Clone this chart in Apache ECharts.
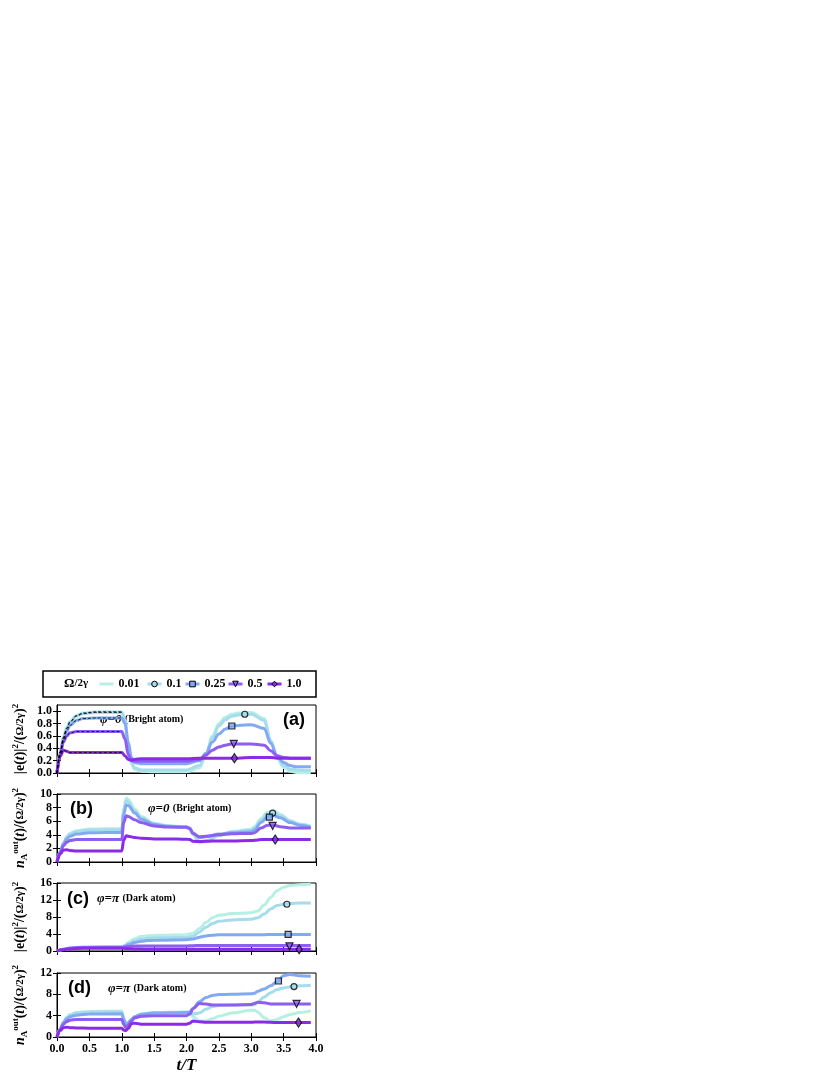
<!DOCTYPE html>
<html>
<head>
<meta charset="utf-8">
<script src="https://cdn.jsdelivr.net/npm/echarts@6/dist/echarts.min.js"></script>
<style>
  html, body { margin: 0; padding: 0; background: #fff; }
  #main { width: 830px; height: 1075px; }
</style>
</head>
<body>
<div id="main"></div>
<script>
// legend / series
var names = ['0.01', '0.1', '0.25', '0.5', '1.0'];
var colors = ['#b5f0e3', '#a6dcec', '#82aaf2', '#8c5ef2', '#8b2be8'];
var symbols = ['circle', 'circle', 'rect', 'path://M0,0 L10,0 L5,9 Z', 'diamond'];
var markSizes = [6, 6, 6, 7, [6, 9]];

// tick labels
var xTicks = [0, 0.5, 1, 1.5, 2, 2.5, 3, 3.5, 4];
var yTicksA = [0, 0.2, 0.4, 0.6, 0.8, 1.0];
var yTicksB = [0, 2, 4, 6, 8, 10];
var yTicksC = [0, 4, 8, 12, 16];
var yTicksD = [0, 4, 8, 12];

// panel (a)  |e(t)|^2, phi = 0
var tA   = [0, 0.05, 0.1, 0.15, 0.2, 0.3, 0.4, 0.6, 1.0, 1.05, 1.1, 1.15, 1.2, 1.3, 1.5, 2.0, 2.2, 2.3, 2.4, 2.5, 2.6, 2.7, 2.8, 3.0, 3.2, 3.3, 3.4, 3.5, 3.6, 3.7, 3.92];
var a001 = [0, 0.35, 0.58, 0.73, 0.83, 0.93, 0.97, 0.99, 0.99, 0.85, 0.42, 0.14, 0.06, 0.03, 0.02, 0.02, 0.08, 0.28, 0.6, 0.8, 0.9, 0.95, 0.97, 0.98, 0.88, 0.52, 0.24, 0.09, 0.03, 0.01, 0.0];
var a01  = [0, 0.34, 0.57, 0.72, 0.82, 0.92, 0.96, 0.98, 0.98, 0.85, 0.45, 0.17, 0.08, 0.05, 0.05, 0.05, 0.12, 0.3, 0.57, 0.76, 0.86, 0.92, 0.94, 0.95, 0.85, 0.52, 0.26, 0.12, 0.06, 0.05, 0.04];
var a025 = [0, 0.32, 0.54, 0.68, 0.77, 0.85, 0.88, 0.89, 0.89, 0.8, 0.5, 0.25, 0.17, 0.15, 0.15, 0.15, 0.2, 0.32, 0.5, 0.63, 0.71, 0.76, 0.77, 0.78, 0.72, 0.48, 0.28, 0.17, 0.12, 0.1, 0.1];
var a05  = [0, 0.3, 0.5, 0.6, 0.65, 0.67, 0.67, 0.67, 0.67, 0.55, 0.3, 0.2, 0.19, 0.19, 0.19, 0.19, 0.22, 0.29, 0.37, 0.42, 0.45, 0.47, 0.47, 0.47, 0.45, 0.36, 0.28, 0.25, 0.24, 0.24, 0.24];
var a1   = [0, 0.27, 0.37, 0.35, 0.33, 0.33, 0.33, 0.33, 0.33, 0.28, 0.22, 0.21, 0.22, 0.23, 0.23, 0.23, 0.24, 0.24, 0.24, 0.24, 0.24, 0.24, 0.24, 0.25, 0.25, 0.25, 0.24, 0.24, 0.24, 0.24, 0.24];
// marker points: circle (0.1), square (0.25), triangle (0.5), diamond (1.0)
var markA = [[2.9, 0.95], [2.7, 0.76], [2.73, 0.47], [2.74, 0.24]];

// panel (b)  n_A^out, phi = 0
var tB   = [0, 0.05, 0.1, 0.15, 0.2, 0.3, 0.5, 1.0, 1.03, 1.07, 1.1, 1.2, 1.3, 1.5, 1.7, 2.0, 2.05, 2.1, 2.2, 2.3, 2.5, 2.7, 3.0, 3.05, 3.15, 3.25, 3.35, 3.45, 3.6, 3.75, 3.92];
var b001 = [0, 1.5, 2.8, 3.7, 4.2, 4.6, 4.85, 4.9, 7.8, 9.4, 9.2, 7.8, 6.7, 5.7, 5.35, 5.2, 5.0, 4.0, 2.8, 3.0, 3.9, 4.5, 4.8, 5.2, 6.4, 7.3, 7.5, 7.0, 6.1, 5.6, 5.3];
var b01  = [0, 1.5, 2.75, 3.6, 4.1, 4.5, 4.7, 4.75, 7.5, 9.0, 8.8, 7.5, 6.5, 5.6, 5.3, 5.15, 5.0, 4.1, 3.0, 3.1, 3.9, 4.4, 4.7, 5.0, 6.1, 7.0, 7.2, 6.8, 6.0, 5.5, 5.2];
var b025 = [0, 1.5, 2.7, 3.4, 3.8, 4.1, 4.3, 4.35, 7.0, 8.4, 8.3, 7.2, 6.3, 5.5, 5.25, 5.15, 5.0, 4.3, 3.6, 3.7, 4.1, 4.3, 4.45, 4.7, 5.8, 6.6, 6.8, 6.5, 5.8, 5.4, 5.1];
var b05  = [0, 1.4, 2.4, 2.9, 3.15, 3.3, 3.3, 3.3, 5.8, 6.8, 6.7, 6.2, 5.8, 5.3, 5.15, 5.1, 4.9, 4.2, 3.7, 3.8, 4.0, 4.15, 4.2, 4.3, 5.0, 5.4, 5.4, 5.2, 5.0, 5.0, 5.0];
var b1   = [0, 1.2, 1.75, 1.8, 1.7, 1.6, 1.6, 1.6, 3.2, 3.85, 3.8, 3.6, 3.5, 3.4, 3.4, 3.35, 3.3, 3.05, 3.0, 3.05, 3.1, 3.1, 3.15, 3.2, 3.3, 3.3, 3.3, 3.3, 3.3, 3.3, 3.3];
var markB = [[3.33, 7.2], [3.28, 6.6], [3.33, 5.3], [3.37, 3.3]];

// panel (c)  |e(t)|^2, phi = pi
var tC   = [0, 0.1, 0.2, 0.3, 0.5, 1.0, 1.05, 1.1, 1.2, 1.3, 1.4, 1.6, 2.0, 2.1, 2.2, 2.3, 2.4, 2.5, 2.7, 3.0, 3.1, 3.2, 3.3, 3.4, 3.5, 3.6, 3.75, 3.92];
var c001 = [0, 0.4, 0.7, 0.85, 0.9, 0.95, 1.3, 2.0, 2.9, 3.4, 3.6, 3.7, 3.85, 4.2, 5.3, 6.7, 7.8, 8.4, 8.8, 9.0, 9.4, 10.8, 12.6, 14.2, 15.0, 15.4, 15.6, 15.7];
var c01  = [0, 0.4, 0.7, 0.85, 0.9, 0.95, 1.2, 1.7, 2.4, 2.8, 3.0, 3.1, 3.2, 3.5, 4.5, 5.6, 6.5, 7.0, 7.3, 7.5, 7.8, 8.7, 9.9, 10.7, 11.0, 11.2, 11.3, 11.3];
var c025 = [0, 0.4, 0.7, 0.85, 0.9, 0.95, 1.1, 1.5, 2.0, 2.3, 2.45, 2.55, 2.65, 2.85, 3.25, 3.55, 3.7, 3.8, 3.8, 3.8, 3.8, 3.85, 3.9, 3.9, 3.9, 3.9, 3.9, 3.9];
var c05  = [0, 0.35, 0.6, 0.75, 0.8, 0.85, 0.95, 1.05, 1.15, 1.2, 1.2, 1.2, 1.2, 1.25, 1.3, 1.3, 1.3, 1.3, 1.3, 1.3, 1.3, 1.3, 1.3, 1.3, 1.3, 1.3, 1.3, 1.3];
var c1   = [0, 0.3, 0.5, 0.6, 0.65, 0.65, 0.6, 0.55, 0.5, 0.45, 0.4, 0.4, 0.4, 0.4, 0.4, 0.4, 0.4, 0.4, 0.4, 0.4, 0.4, 0.4, 0.4, 0.4, 0.4, 0.4, 0.4, 0.4];
var markC = [[3.55, 11.0], [3.57, 3.9], [3.59, 1.1], [3.74, 0.4]];

// panel (d)  n_A^out, phi = pi
var tD   = [0, 0.05, 0.1, 0.15, 0.2, 0.3, 0.5, 1.0, 1.03, 1.06, 1.1, 1.15, 1.2, 1.3, 1.5, 2.0, 2.05, 2.1, 2.2, 2.3, 2.4, 2.5, 2.7, 3.0, 3.05, 3.1, 3.2, 3.3, 3.4, 3.5, 3.6, 3.75, 3.92];
var d001 = [0, 1.5, 2.8, 3.7, 4.2, 4.6, 4.8, 4.85, 3.5, 2.6, 2.7, 3.3, 3.8, 4.3, 4.6, 4.7, 4.5, 3.8, 3.0, 3.0, 3.4, 3.9, 4.5, 5.0, 5.0, 4.7, 3.6, 3.0, 3.3, 3.8, 4.2, 4.6, 4.9];
var d01  = [0, 1.5, 2.75, 3.6, 4.1, 4.5, 4.7, 4.75, 3.5, 2.6, 2.7, 3.3, 3.8, 4.3, 4.55, 4.65, 4.6, 4.3, 4.5, 5.2, 5.7, 5.9, 6.0, 6.0, 6.1, 6.5, 7.5, 8.3, 8.9, 9.2, 9.4, 9.6, 9.7];
var d025 = [0, 1.5, 2.7, 3.4, 3.8, 4.1, 4.3, 4.35, 3.3, 2.4, 2.6, 3.3, 3.8, 4.2, 4.5, 4.6, 4.7, 5.4, 6.6, 7.4, 7.8, 7.95, 8.0, 8.1, 8.2, 8.6, 9.0, 9.6, 10.4, 11.5, 11.7, 11.5, 11.4];
var d05  = [0, 1.4, 2.4, 2.9, 3.15, 3.3, 3.3, 3.3, 2.4, 1.8, 2.2, 3.0, 3.6, 3.9, 4.0, 4.0, 4.3, 5.3, 6.3, 6.2, 6.0, 6.0, 6.0, 6.1, 6.3, 6.5, 6.4, 6.2, 6.2, 6.2, 6.2, 6.2, 6.2];
var d1   = [0, 1.2, 1.75, 1.85, 1.75, 1.7, 1.65, 1.65, 1.3, 1.2, 1.6, 2.5, 2.6, 2.4, 2.4, 2.4, 2.6, 3.0, 2.85, 2.75, 2.75, 2.75, 2.75, 2.75, 2.8, 2.8, 2.8, 2.75, 2.7, 2.7, 2.7, 2.7, 2.7];
var markD = [[3.66, 9.45], [3.42, 10.5], [3.70, 6.2], [3.73, 2.7]];

var SERIF = '"Liberation Serif", "DejaVu Serif", serif';

function pairs(t, v) {
    return t.map(function (x, i) { return [x, v[i]]; });
}

var panels = [
    { t: tA, vals: [a001, a01, a025, a05, a1], marks: markA, top: 705, max: 1.1, ticks: yTicksA, dec: 1, yname: 'e' },
    { t: tB, vals: [b001, b01, b025, b05, b1], marks: markB, top: 794, max: 10, ticks: yTicksB, dec: 0, yname: 'n' },
    { t: tC, vals: [c001, c01, c025, c05, c1], marks: markC, top: 883, max: 16, ticks: yTicksC, dec: 0, yname: 'e' },
    { t: tD, vals: [d001, d01, d025, d05, d1], marks: markD, top: 973, max: 12, ticks: yTicksD, dec: 0, yname: 'n' }
];

var richName = {
    t: { fontFamily: SERIF, fontWeight: 'bold', fontSize: 14, color: '#000', lineHeight: 18 },
    it: { fontFamily: SERIF, fontWeight: 'bold', fontStyle: 'italic', fontSize: 14, color: '#000', lineHeight: 18 },
    b: { fontFamily: SERIF, fontWeight: 'bold', fontSize: 11, color: '#000', lineHeight: 18 },
    sup: { fontFamily: SERIF, fontWeight: 'bold', fontSize: 9, color: '#000', verticalAlign: 'top', lineHeight: 18 },
    sub: { fontFamily: SERIF, fontWeight: 'bold', fontSize: 9, color: '#000', verticalAlign: 'bottom', lineHeight: 18 }
};
var nameE = '{t|\u007Ce(}{it|t}{t|)\u007C}{sup|2}{t|/(}{b|\u03A9/2\u03B3}{t|)}{sup|2}';
var nameN = '{it|n}{sub|A}{sup|out}{t|(}{it|t}{t|)/(}{b|\u03A9/2\u03B3}{t|)}{sup|2}';

var grids = [], xAxes = [], yAxes = [], series = [];
var tickStyle = { inside: true, length: 4, lineStyle: { color: '#000', width: 1 } };
var lblStyle = { fontFamily: SERIF, fontWeight: 'bold', fontSize: 12, color: '#000' };

panels.forEach(function (p, i) {
    grids.push({ left: 57, top: p.top, width: 259, height: 68, show: true, borderColor: '#000', borderWidth: 1 });
    var xb = {
        type: 'value', gridIndex: i, min: 0, max: 4, interval: 0.5, position: 'bottom',
        axisLine: { lineStyle: { color: '#000', width: 1 } },
        axisTick: Object.assign({ customValues: xTicks }, tickStyle),
        axisLabel: Object.assign({ show: i === 3, margin: 6, customValues: xTicks, formatter: function (v) { return v.toFixed(1); } }, lblStyle),
        splitLine: { show: false }
    };
    if (i === 3) {
        xb.name = 't/T';
        xb.nameLocation = 'middle';
        xb.nameGap = 20;
        xb.nameTextStyle = { fontFamily: SERIF, fontStyle: 'italic', fontWeight: 'bold', fontSize: 17, color: '#000' };
    }
    xAxes.push(xb);
    xAxes.push({
        type: 'value', gridIndex: i, min: 0, max: 4, interval: 0.5, position: 'top',
        axisLine: { lineStyle: { color: '#000', width: 1 } },
        axisTick: Object.assign({ customValues: xTicks }, tickStyle),
        axisLabel: { show: false }, splitLine: { show: false }
    });
    yAxes.push({
        type: 'value', gridIndex: i, min: 0, max: p.max, position: 'left',
        name: p.yname === 'e' ? nameE : nameN, nameLocation: 'middle', nameGap: 28, nameRotate: 90,
        nameTextStyle: { rich: richName },
        axisLine: { lineStyle: { color: '#000', width: 1 } },
        axisTick: Object.assign({ customValues: p.ticks }, tickStyle),
        axisLabel: Object.assign({ margin: 5, customValues: p.ticks, formatter: (function (d) { return function (v) { return v.toFixed(d); }; })(p.dec) }, lblStyle),
        splitLine: { show: false }
    });
    yAxes.push({
        type: 'value', gridIndex: i, min: 0, max: p.max, position: 'right',
        axisLine: { lineStyle: { color: '#000', width: 1 } },
        axisTick: Object.assign({ customValues: p.ticks }, tickStyle),
        axisLabel: { show: false }, splitLine: { show: false }
    });

    p.vals.forEach(function (v, s) {
        series.push({
            type: 'line', name: names[s], xAxisIndex: 2 * i, yAxisIndex: 2 * i,
            data: pairs(p.t, v), showSymbol: false, symbol: symbols[s], symbolSize: 6,
            smooth: 0.35, smoothMonotone: 'x', clip: true,
            lineStyle: { color: colors[s], width: 3 },
            itemStyle: { color: colors[s], borderColor: '#000', borderWidth: 1 },
            emphasis: { disabled: true }, silent: true, z: 2 + s
        });
        // steady-state dashed overlay in (a), first pulse only
        if (i === 0) {
            series.push({
                type: 'line', name: 'ss' + s, xAxisIndex: 0, yAxisIndex: 0,
                data: pairs(p.t, v).filter(function (d) { return d[0] <= 1.0; }),
                showSymbol: false, symbol: 'none', smooth: 0.35, smoothMonotone: 'x',
                lineStyle: { color: '#000', width: 0.8, type: [3, 2] }, silent: true, z: 8
            });
        }
    });
    p.marks.forEach(function (m, k) {
        var s = k + 1;
        series.push({
            type: 'scatter', name: 'mk' + s, xAxisIndex: 2 * i, yAxisIndex: 2 * i,
            data: [m], symbol: symbols[s], symbolSize: markSizes[s],
            itemStyle: { color: colors[s], borderColor: '#000', borderWidth: 1.2 },
            silent: true, z: 10
        });
    });
});

// one legend block per entry so spacing follows the reference
var legendLeft = [98, 146, 184, 227, 266];
var legends = names.map(function (n, s) {
    var item = { name: n, lineStyle: { color: colors[s], width: 3 }, itemStyle: { color: colors[s], borderColor: '#000', borderWidth: 1 } };
    if (s === 0) item.itemStyle = { opacity: 0 };
    return {
        data: [item], left: legendLeft[s], top: 678, padding: 0,
        itemWidth: 14, itemHeight: 7, selectedMode: false,
        textStyle: { fontFamily: SERIF, fontWeight: 'bold', fontSize: 12, color: '#000' }
    };
});

function ann(x, y, main, rest) {
    return {
        type: 'text', left: x, top: y,
        style: {
            text: '{p|' + main + '} {s|' + rest + '}',
            rich: {
                p: { fontFamily: SERIF, fontWeight: 'bold', fontStyle: 'italic', fontSize: 13, fill: '#000' },
                s: { fontFamily: SERIF, fontWeight: 'bold', fontSize: 10, fill: '#000' }
            }
        }
    };
}
function plabel(x, y, txt) {
    return { type: 'text', left: x, top: y, style: { text: txt, font: 'bold 18px "Liberation Sans", Arial, sans-serif', fill: '#000' } };
}

var option = {
    animation: false,
    backgroundColor: '#fff',
    grid: grids,
    xAxis: xAxes,
    yAxis: yAxes,
    legend: legends,
    graphic: [
        { type: 'rect', shape: { x: 43, y: 671, width: 273, height: 26 }, style: { fill: 'none', stroke: '#000', lineWidth: 1.5 } },
        { type: 'text', left: 64, top: 677, style: { text: '{o|\u03A9}{r|/2\u03B3}', rich: {
            o: { fontFamily: SERIF, fontWeight: 'bold', fontSize: 13, fill: '#000' },
            r: { fontFamily: SERIF, fontWeight: 'bold', fontSize: 11, fill: '#000' } } } },
        plabel(283, 711, '(a)'),
        ann(100, 713, '\u03C6=0', '(Bright atom)'),
        plabel(70, 800, '(b)'),
        ann(148, 802, '\u03C6=0', '(Bright atom)'),
        plabel(67, 890, '(c)'),
        ann(97, 892, '\u03C6=\u03C0', '(Dark atom)'),
        plabel(68, 979, '(d)'),
        ann(108, 982, '\u03C6=\u03C0', '(Dark atom)')
    ],
    series: series
};

var chart = echarts.init(document.getElementById('main'), null, { renderer: 'canvas' });
chart.setOption(option);
</script>
</body>
</html>
